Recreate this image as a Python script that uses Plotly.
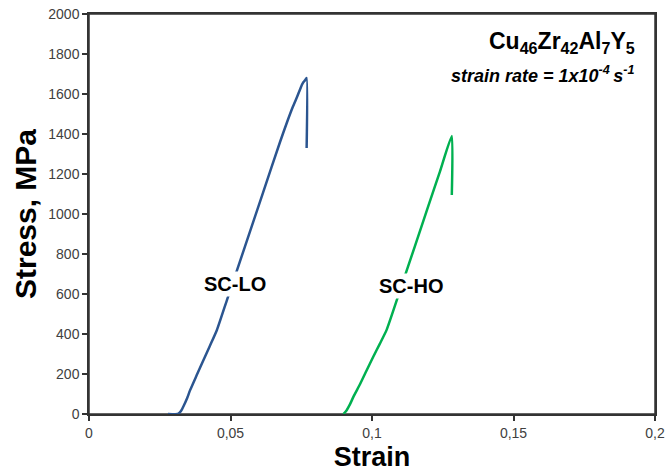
import plotly.graph_objects as go

# SC-LO curve (strain, stress MPa)
strain_lo = [0.0279, 0.0314, 0.0325, 0.0336, 0.0347, 0.0357, 0.0380, 0.0403, 0.0427, 0.0452,
             0.0488, 0.0551, 0.0615, 0.0675, 0.0700, 0.0720, 0.0735, 0.0745, 0.0752, 0.0758,
             0.0763, 0.0769, 0.0769]
stress_lo = [0, 0, 15, 45, 80, 118, 192, 265, 340, 420,
             572, 837, 1107, 1360, 1460, 1535, 1585, 1620, 1645, 1660,
             1668, 1680, 1330]

# SC-HO curve
strain_ho = [0.0899, 0.0910, 0.0922, 0.0935, 0.0958, 0.0980, 0.1004, 0.1028, 0.1052,
             0.1100, 0.1152, 0.1200, 0.1240, 0.1282, 0.1282]
stress_ho = [0, 18, 48, 88, 150, 215, 285, 352, 422,
             622, 841, 1044, 1212, 1390, 1095]

x_tickvals = [0, 0.05, 0.1, 0.15, 0.2]
x_ticktext = ["0", "0,05", "0,1", "0,15", "0,2"]
y_tickvals = [0, 200, 400, 600, 800, 1000, 1200, 1400, 1600, 1800, 2000]

BLUE = "#2B5590"
GREEN = "#00B050"
FONT = "Liberation Sans, Arial, sans-serif"

fig = go.Figure()
fig.add_trace(go.Scatter(x=strain_lo, y=stress_lo, mode="lines",
                         line=dict(color=BLUE, width=2.5, shape="spline", smoothing=0.5),
                         name="SC-LO", showlegend=False, cliponaxis=False))
fig.add_trace(go.Scatter(x=strain_ho, y=stress_ho, mode="lines",
                         line=dict(color=GREEN, width=2.5, shape="spline", smoothing=0.5),
                         name="SC-HO", showlegend=False, cliponaxis=False))

label_font = dict(family=FONT, size=20, color="black")
fig.add_annotation(x=0.0516, y=650, text="<b>SC-LO</b>", showarrow=False,
                   bgcolor="white", font=label_font, borderpad=1)
fig.add_annotation(x=0.1138, y=640, text="<b>SC-HO</b>", showarrow=False,
                   bgcolor="white", font=label_font, borderpad=1)

fig.add_annotation(x=0.1936, y=1860, xanchor="right", yanchor="middle",
                   text="<b>Cu<sub>46</sub>Zr<sub>42</sub>Al<sub>7</sub>Y<sub>5</sub></b>",
                   showarrow=False, font=dict(family=FONT, size=23, color="black"))
fig.add_annotation(x=0.1936, y=1700, xanchor="right", yanchor="middle",
                   text="<b><i>strain rate = 1x10<sup>-4 </sup>s<sup>-1</sup></i></b>",
                   showarrow=False, font=dict(family=FONT, size=18, color="black"))

# plot-area frame
fig.add_shape(type="rect", xref="paper", yref="paper", x0=0, y0=0, x1=1, y1=1,
              line=dict(color="#333333", width=1.5), layer="below")

axis_common = dict(showgrid=False, zeroline=False, showline=True, mirror=True,
                   linecolor="#333333", linewidth=1.5, ticks="outside", ticklen=5,
                   tickcolor="#333333", tickwidth=1.5, automargin=False,
                   tickfont=dict(family=FONT, size=14, color="#404040"))

fig.update_xaxes(range=[0, 0.2], tickvals=x_tickvals, ticktext=x_ticktext,
                 title=dict(text="<b>Strain</b>", standoff=15,
                            font=dict(family=FONT, size=27, color="black")),
                 **axis_common)
fig.update_yaxes(range=[0, 2000], tickvals=y_tickvals,
                 title=dict(text="<b>Stress, MPa</b>", standoff=3,
                            font=dict(family=FONT, size=30, color="black")),
                 **axis_common)

fig.update_layout(width=665, height=472, plot_bgcolor="white", paper_bgcolor="white",
                  margin=dict(l=89, r=10, t=14, b=58))

# remove the page's default body margin so the figure fills the window exactly
fig.write_html("out.html", config={"displayModeBar": False},
               post_script="document.body.style.margin='0';document.body.style.overflow='hidden';")
